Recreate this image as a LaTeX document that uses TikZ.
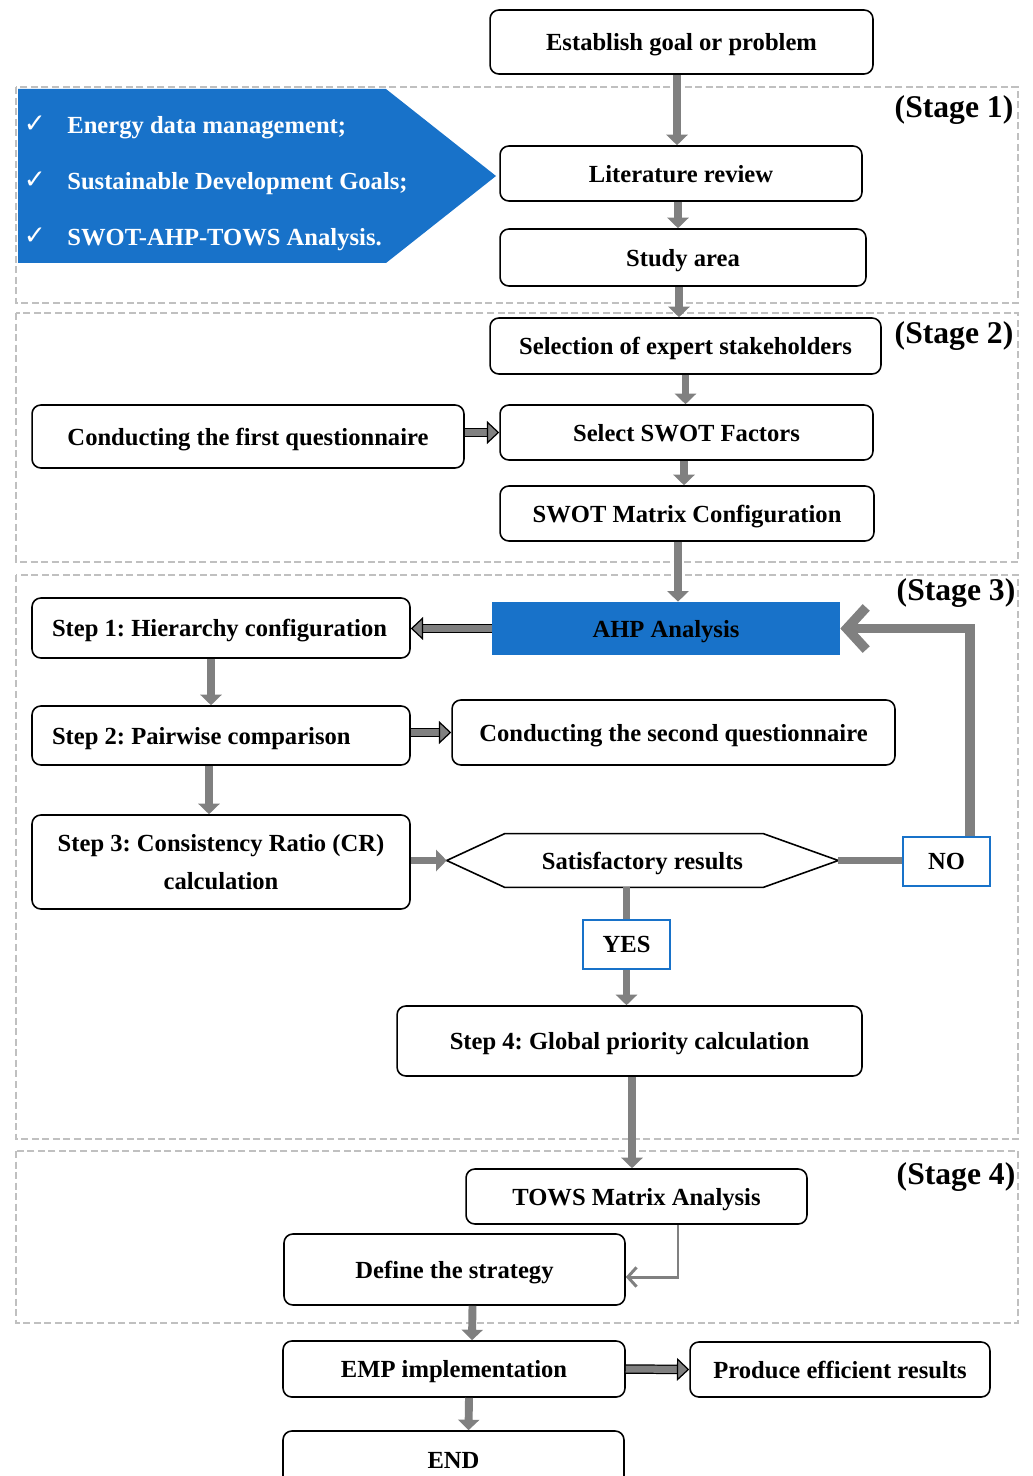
\documentclass[tikz,border=0pt]{standalone}
\usepackage{fontspec}
\setmainfont{Liberation Serif}
\newfontfamily\symfont{DejaVu Sans}
\usetikzlibrary{arrows.meta}
\frenchspacing
\definecolor{ahpblue}{RGB}{24,114,201}
\definecolor{arrowgray}{RGB}{128,128,128}
\definecolor{stagegray}{RGB}{192,192,192}

\tikzset{
  box/.style={draw, rounded corners=5pt, line width=0.9pt, align=center, inner sep=0pt, text depth=0pt, font=\bfseries\fontsize{14}{17}\selectfont},
  answer/.style={draw=ahpblue, line width=1.2pt, fill=white, inner sep=0pt, text depth=0pt, minimum width=1.74cm, minimum height=0.98cm, font=\bfseries\fontsize{14}{17}\selectfont},
  stagebox/.style={draw=stagegray, line width=1pt, dash pattern=on 4pt off 2pt},
  stagelabel/.style={font=\bfseries\fontsize{18}{21}\selectfont, inner sep=0pt},
  flow/.style={draw=arrowgray, line width=4.5pt, -{Triangle[length=6pt,width=12pt]}},
  flowline/.style={draw=arrowgray, line width=4.5pt},
  blockarrow/.style={draw=black, line width=0.7pt, double=arrowgray, double distance=4pt, -{Triangle[length=7pt,width=13pt,fill=arrowgray]}},
  loopback/.style={draw=arrowgray, line width=5.5pt, -{Straight Barb[length=11pt,width=24pt]}},
  thinback/.style={draw=arrowgray, line width=1.7pt, -{Straight Barb[length=5pt,width=11pt]}},
}

\begin{document}
\begin{tikzpicture}[x=0.02cm, y=-0.02cm]
\useasboundingbox (0,0) rectangle (1032,1476);

% Stage frames
\draw[stagebox] (16,87) rectangle (1018,303);
\draw[stagebox] (16,313) rectangle (1018,562);
\draw[stagebox] (16,575) rectangle (1018,1139);
\draw[stagebox] (16,1151) rectangle (1018,1323);
\node[stagelabel] (st1) at (954,110) {(Stage 1)};
\node[stagelabel] (st2) at (954,336) {(Stage 2)};
\node[stagelabel] (st3) at (956,593) {(Stage 3)};
\node[stagelabel] (st4) at (956,1177) {(Stage 4)};

% Blue banner with the aims
\fill[ahpblue] (18,89) -- (386,89) -- (496,176) -- (386,263) -- (18,263) -- cycle;
\foreach \aim [count=\i] in {{Energy data management;}, {Sustainable Development Goals;}, {SWOT-AHP-TOWS Analysis.}} {
  \node[text=white, font=\symfont\fontsize{15}{17}\selectfont] (tick\i) at (35,68+56*\i) {✓};
  \node[anchor=west, inner xsep=0pt, text depth=0pt, text=white, font=\bfseries\fontsize{14}{17}\selectfont] (aim\i) at (67,69+56*\i) {\aim};
}

% Boxes
\node[box, minimum width=7.66cm, minimum height=1.28cm] (goal) at (681.5,42) {Establish goal or problem};
\node[box, minimum width=7.24cm, minimum height=1.10cm] (lit) at (681,173.5) {Literature review};
\node[box, minimum width=7.32cm, minimum height=1.14cm] (area) at (683,257.5) {Study area};
\node[box, minimum width=7.82cm, minimum height=1.12cm] (experts) at (685.5,346) {Selection of expert stakeholders};
\node[box, minimum width=8.64cm, minimum height=1.26cm] (quest1) at (248,436.5) {Conducting the first questionnaire};
\node[box, minimum width=7.46cm, minimum height=1.10cm] (factors) at (686.5,432.5) {Select SWOT Factors};
\node[box, minimum width=7.48cm, minimum height=1.10cm] (matrix) at (687,513.5) {SWOT Matrix Configuration};
\node[fill=ahpblue, inner sep=0pt, text depth=0pt, minimum width=6.96cm, minimum height=1.06cm, font=\bfseries\fontsize{14}{17}\selectfont] (ahp) at (666,628.5) {AHP Analysis};
\node[box, text width=6.76cm, inner xsep=0.4cm, align=flush left, minimum height=1.20cm] (step1) at (221,628) {Step 1: Hierarchy configuration};
\node[box, text width=6.76cm, inner xsep=0.4cm, align=flush left, minimum height=1.18cm] (step2) at (221,735.5) {Step 2: Pairwise comparison};
\node[box, minimum width=8.86cm, minimum height=1.30cm] (quest2) at (673.5,732.5) {Conducting the second questionnaire};
\node[box, minimum width=7.56cm, minimum height=1.88cm] (step3) at (221,862) {Step 3: Consistency Ratio (CR)\\[5pt]calculation};
\node[inner sep=0pt, text depth=0pt, minimum width=7.82cm, minimum height=1.06cm, font=\bfseries\fontsize{14}{17}\selectfont] (check) at (642.5,860.5) {Satisfactory results};
\draw[line width=0.9pt] (check.west) -- ([xshift=1.16cm]check.north west) -- ([xshift=-1.5cm]check.north east) -- (check.east) -- ([xshift=-1.5cm]check.south east) -- ([xshift=1.16cm]check.south west) -- cycle;
\node[answer] (no) at (946.5,861.5) {NO};
\node[answer] (yes) at (626.5,944.5) {YES};
\node[box, minimum width=9.30cm, minimum height=1.40cm] (global) at (629.5,1041) {Step 4: Global priority calculation};
\node[box, minimum width=6.82cm, minimum height=1.10cm] (tows) at (636.5,1196.5) {TOWS Matrix Analysis};
\node[box, minimum width=6.82cm, minimum height=1.42cm] (strategy) at (454.5,1269.5) {Define the strategy};
\node[box, minimum width=6.84cm, minimum height=1.12cm] (emp) at (454,1369) {EMP implementation};
\node[box, minimum width=6.00cm, minimum height=1.10cm] (results) at (840,1369.5) {Produce efficient results};
\node[box, minimum width=6.82cm, minimum height=1.18cm] (stop) at (453.5,1460.5) {END};

% Connectors
\draw[flow] ([xshift=-0.09cm]goal.south) -- ([xshift=-0.09cm]goal.south |- lit.north);
\draw[flow] ([xshift=-0.06cm]lit.south) -- ([xshift=-0.06cm]lit.south |- area.north);
\draw[flow] ([xshift=-0.08cm]area.south) -- ([xshift=-0.08cm]area.south |- experts.north);
\draw[flow] (experts.south) -- (experts.south |- factors.north);
\draw[flow] ([xshift=-0.05cm]factors.south) -- ([xshift=-0.05cm]factors.south |- matrix.north);
\draw[flow] ([xshift=-0.18cm]matrix.south) -- ([xshift=-0.18cm]matrix.south |- ahp.north);
\draw[blockarrow] (quest1.east |- factors) -- (factors.west);
\draw[blockarrow] (ahp.west) -- (ahp.west -| step1.east);
\draw[flow] ([xshift=-0.2cm]step1.south) -- ([xshift=-0.2cm]step1.south |- step2.north);
\draw[blockarrow] (step2.east |- quest2) -- (quest2.west);
\draw[flow] ([xshift=-0.24cm]step2.south) -- ([xshift=-0.24cm]step2.south |- step3.north);
\draw[flow] (step3.east |- check) -- (check.west);
\draw[flowline] (check.east) -- (check.east -| no.west);
\draw[loopback] ([xshift=0.47cm]no.north) |- (ahp.east);
\draw[flowline] (check.south -| yes) -- (yes.north);
\draw[flow] (yes.south) -- (yes.south |- global.north);
\draw[flow] ([xshift=0.05cm]global.south) -- ([xshift=0.05cm]global.south |- tows.north);
\draw[thinback] ([xshift=0.83cm]tows.south) |- ([yshift=-0.15cm]strategy.east);
\draw[flow] ([xshift=0.36cm]strategy.south) -- ([xshift=0.36cm]emp.north);
\draw[blockarrow] (emp.east) -- (results.west);
\draw[flow] ([xshift=0.3cm]emp.south) -- ([xshift=0.3cm]stop.north);
\end{tikzpicture}
\end{document}
